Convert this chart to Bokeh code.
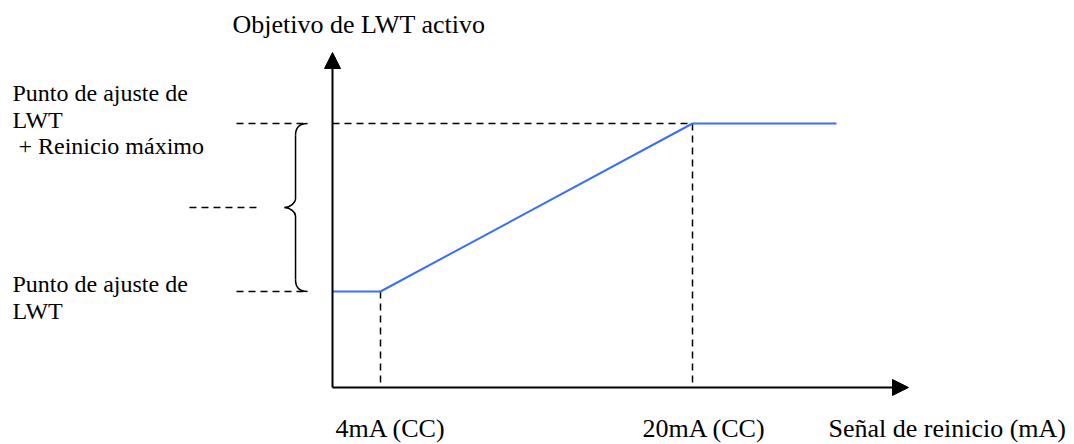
from bokeh.plotting import figure
from bokeh.models import Range1d, Arrow, NormalHead
from bokeh.core.properties import value
from bokeh.embed import file_html
from bokeh.resources import INLINE

# ---- data (schematic units) ----
# x: signal position (0 = axis origin, 1 = 4 mA, 7.5 = 20 mA)
# y: active LWT target (0 = LWT setpoint, 1 = setpoint + max reset)
signal = [0, 1, 7.5, 10.5]
target = [0, 0, 1, 1]
tick_pos = [1, 7.5]
tick_labels = ["4mA (CC)", "20mA (CC)"]
x_title = "Señal de reinicio (mA)"
y_title = "Objetivo de LWT activo"
setpoint_label = ["Punto de ajuste de", "LWT"]
max_label = ["Punto de ajuste de", "LWT", "+ Reinicio máximo"]
levels = [0, 1]

FONT = value("Liberation Serif")
X0, Y0 = 0.0, -0.5714          # axis origin
XTIP, YTIP = 12.0, 1.4226

p = figure(width=1074, height=444, output_backend="svg", toolbar_location=None,
           x_range=Range1d(-6.9167, 15.4583), y_range=Range1d(-0.9107, 1.7321),
           min_border=0, outline_line_color=None)
p.axis.visible = False
p.grid.visible = False

# axes with arrow heads
p.add_layout(Arrow(x_start=X0, y_start=Y0, x_end=XTIP, y_end=Y0, line_width=2,
                   end=NormalHead(size=16, fill_color="black", line_color="black")))
p.add_layout(Arrow(x_start=X0, y_start=Y0, x_end=X0, y_end=YTIP, line_width=2,
                   end=NormalHead(size=16, fill_color="black", line_color="black")))

dash = dict(line_color="black", line_width=1.5, line_dash="7 5")
for xt, yv in zip(tick_pos, [target[1], target[2]]):
    p.line([xt, xt], [yv, Y0], **dash)
p.line([X0, tick_pos[1]], [levels[1], levels[1]], **dash)
BR_END, BR_SPINE, BR_TIP = -0.52, -0.77, -1.0
for lv in levels:
    p.line([-2.0, BR_END], [lv, lv], **dash)
mid = (levels[0] + levels[1]) / 2
p.line([-2.98, -1.5], [mid, mid], **dash)

# curly brace
c = 0.07
bx0 = [BR_END, BR_SPINE, BR_TIP, BR_SPINE]
by0 = [levels[1], mid + c / 1.4, mid, levels[0] + c]
bx1 = [BR_SPINE, BR_TIP, BR_SPINE, BR_END]
by1 = [levels[1] - c, mid, mid - c / 1.4, levels[0]]
cx0 = [BR_END - 0.17, BR_SPINE, BR_TIP + 0.12, BR_SPINE]
cy0 = [levels[1], mid + 0.03, mid, levels[0] + 0.02]
cx1 = [BR_SPINE, BR_TIP + 0.12, BR_SPINE, BR_END - 0.14]
cy1 = [levels[1] - 0.02, mid, mid - 0.03, levels[0]]
p.bezier(x0=bx0, y0=by0, x1=bx1, y1=by1, cx0=cx0, cy0=cy0, cx1=cx1, cy1=cy1,
         line_color="black", line_width=1.5)
p.line([BR_SPINE, BR_SPINE], [levels[1] - c, mid + c / 1.4], line_color="black", line_width=1.5)
p.line([BR_SPINE, BR_SPINE], [mid - c / 1.4, levels[0] + c], line_color="black", line_width=1.5)

# reset curve
p.line(signal, target, line_color="#3d6ef7", line_width=2)

# texts
txt = dict(text_font=FONT, text_color="black", text_baseline="alphabetic", text_align="left")
p.text(x=[-2.0833], y=[1.5893], text=[y_title], text_font_size="26px", **txt)
p.text(x=[-6.6667, -6.6667, -6.5417], y=[1.1786, 1.0179, 0.8631], text=max_label,
       text_font_size="24px", **txt)
p.text(x=[-6.6667, -6.6667], y=[0.0476, -0.1131], text=setpoint_label,
       text_font_size="24px", **txt)
p.text(x=[0.0625, 6.4583], y=[-0.8155, -0.8155], text=tick_labels, text_font_size="26px", **txt)
p.text(x=[10.333], y=[-0.8155], text=[x_title], text_font_size="26px", **txt)

open("out.html", "w").write(file_html(p, INLINE))
